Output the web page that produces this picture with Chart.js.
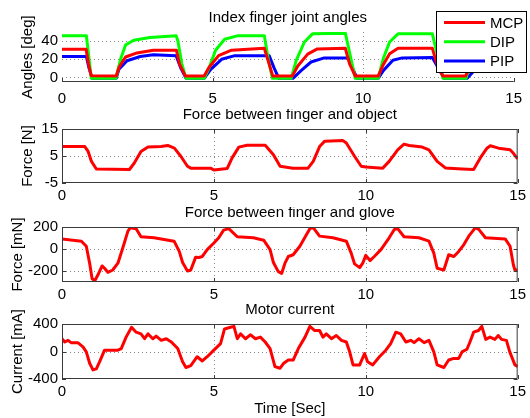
<!DOCTYPE html>
<html>
<head>
<meta charset="utf-8">
<script src="https://cdn.jsdelivr.net/npm/chart.js@4.4.1/dist/chart.umd.min.js"></script>
<style>
  html, body { margin: 0; padding: 0; background: #fff; }
  #wrap { position: relative; width: 530px; height: 418px; overflow: hidden; }
  canvas { position: absolute; left: 0; }
</style>
</head>
<body>
<div id="wrap">
  <canvas id="angles" width="530" height="106" style="top:0px"></canvas>
  <canvas id="objForce" width="530" height="94" style="top:109px"></canvas>
  <canvas id="gloveForce" width="530" height="95" style="top:207px"></canvas>
  <canvas id="current" width="530" height="114" style="top:304px"></canvas>
</div>
<script>
// time axis
const timeTicks = [0, 5, 10, 15];

// joint angles [deg], [time, value]
const mcpAngle = [[0,31],[0.8,31],[0.88,15],[0.97,2],[1.8,1.5],[1.89,11],[2.11,22.5],[2.49,27],[3.03,30],[3.8,30],[3.9,15],[4.1,1.5],
  [4.72,1.5],[4.88,11],[5.2,24],[5.63,30],[6.72,32],[6.85,18],[7.0,1.5],[7.65,1.5],[7.83,12.6],[8.16,25.7],[8.48,31.4],[9.41,32],
  [9.55,15],[9.74,1.5],[10.5,1.5],[10.67,14],[10.88,26],[11.16,32],[12.3,32],[12.45,15],[12.65,1.5],[13.4,1.5],[13.55,12],[13.8,25],[14.1,31],[15,32]];
const dipAngle = [[0,46],[0.81,46],[0.9,20],[0.97,-1],[1.79,-1],[1.95,20.6],[2.11,35.6],[2.38,41],[2.92,44],[3.79,46],[3.85,40],[3.98,15],[4.12,-1],
  [4.72,-1],[4.88,10],[5.1,30],[5.4,42],[5.85,46],[6.72,46],[6.85,20],[6.99,-1],[7.61,-1],[7.78,18.7],[8.05,39],[8.32,48],[9.41,48.7],
  [9.6,20],[9.74,-1],[10.5,-1],[10.67,20.8],[10.88,39],[11.16,48],[12.3,48],[12.5,20],[12.65,-1],[13.42,-1],[13.6,22],[13.85,40],[14.15,47],[15,48]];
const pipAngle = [[0,23],[0.81,23],[0.9,10],[1.0,-1],[1.8,-1],[1.89,9],[2.16,18.4],[2.6,23],[3.03,25],[3.79,24],[3.95,10],[4.12,-1],
  [4.72,-1],[4.94,9],[5.3,20],[5.74,24],[6.88,24],[7.05,10],[7.2,-1],[7.67,-1],[7.94,7.5],[8.27,17],[8.71,21.5],[9.52,21.5],
  [9.65,10],[9.8,-1],[10.5,-1],[10.67,7.5],[10.99,19],[11.3,21.5],[12.3,22],[12.5,10],[12.7,-1],[13.45,-1],[13.7,8],[14.0,18],[14.4,21.5],[15,22]];

// force between finger and object [N]
const objectForce = [[0,8.5],[0.75,8.5],[0.86,6.7],[0.97,3],[1.13,0.2],[2.22,0],[2.38,2.4],[2.6,6.7],[2.83,8.3],[3.26,8.5],[3.48,8.9],[3.7,7.9],
  [3.91,4.9],[4.13,1.2],[4.24,0.5],[4.89,0.5],[5.0,-0.2],[5.44,0.4],[5.6,4.3],[5.82,8.3],[6.09,9],[6.69,9],[6.96,5.5],[7.18,1.2],[7.6,0.5],
  [8.1,0.5],[8.27,3],[8.48,8.5],[8.65,10.5],[9.25,10.7],[9.36,9.8],[9.63,4.9],[9.85,1.2],[10.0,0.9],[10.56,0.5],[10.77,3],[11.05,7.3],
  [11.26,9.4],[11.43,8.9],[11.86,8.3],[12.08,7.3],[12.35,3],[12.62,0.6],[13.17,0.2],[13.55,0],[13.77,4.3],[13.99,7.9],[14.1,8.8],
  [14.37,7.9],[14.75,7.3],[14.86,6],[15,3.9]];

// force between finger and glove [mN]
const gloveForce = [[0,92],[0.64,71],[0.8,25],[0.91,-129],[0.99,-268],[1.08,-289],[1.18,-237],[1.32,-154],[1.4,-175],[1.51,-212],[1.67,-191],
  [1.84,-129],[2.0,9],[2.17,163],[2.25,194],[2.44,185],[2.6,111],[3.03,102],[3.69,71],[3.86,-22],[3.97,-123],[4.13,-200],[4.24,-191],
  [4.4,-74],[4.51,-77],[4.62,-68],[4.78,-6],[5.0,55],[5.16,102],[5.32,172],[5.49,185],[5.77,111],[6.3,102],[6.64,80],[6.85,-6],
  [6.96,-123],[7.12,-206],[7.23,-222],[7.34,-129],[7.45,-68],[7.61,-52],[7.83,25],[8.05,132],[8.16,185],[8.27,194],[8.48,117],
  [8.92,102],[9.36,71],[9.52,-37],[9.63,-135],[9.8,-169],[9.9,-129],[10.0,-58],[10.14,-105],[10.28,-68],[10.5,-6],[10.77,102],
  [10.94,178],[11.05,185],[11.26,111],[11.75,102],[12.08,71],[12.24,-37],[12.35,-175],[12.57,-191],[12.73,-52],[12.9,-68],[13.06,-22],
  [13.23,40],[13.39,117],[13.61,194],[13.72,178],[13.94,102],[14.59,92],[14.75,25],[14.86,-145],[14.91,-191],[15,-191]];

// motor current [mA]
const motorCurrent = [[0,186],[0.09,138],[0.2,162],[0.3,129],[0.52,129],[0.69,67],[0.8,-5],[0.91,-171],[1.02,-267],[1.13,-252],[1.24,-148],
  [1.4,19],[1.84,19],[1.95,43],[2.11,209],[2.29,352],[2.44,281],[2.6,257],[2.72,186],[2.83,257],[2.99,186],[3.1,224],[3.27,162],
  [3.43,186],[3.6,138],[3.81,43],[3.97,-148],[4.08,-233],[4.24,-205],[4.45,-76],[4.62,-138],[4.78,-76],[5.0,19],[5.22,114],[5.35,328],
  [5.55,352],[5.66,366],[5.77,186],[5.88,257],[6.04,186],[6.2,243],[6.37,186],[6.53,209],[6.69,138],[6.85,43],[7.01,-219],[7.18,-243],
  [7.3,-170],[7.45,-124],[7.61,-124],[7.78,43],[8.0,209],[8.16,366],[8.32,305],[8.48,305],[8.59,209],[8.7,257],[8.87,186],[9.03,233],
  [9.2,162],[9.36,138],[9.47,-5],[9.58,-195],[9.8,-195],[9.96,-29],[10.06,-148],[10.23,-195],[10.45,-76],[10.66,19],[10.82,114],
  [10.99,281],[11.15,257],[11.32,138],[11.48,162],[11.59,129],[11.75,186],[11.92,129],[12.08,162],[12.24,-5],[12.35,-195],[12.57,-233],
  [12.73,-124],[12.9,-100],[13.06,-100],[13.17,-5],[13.33,33],[13.43,138],[13.55,281],[13.71,305],[13.82,366],[13.95,176],[14.09,209],
  [14.25,176],[14.36,233],[14.47,176],[14.63,162],[14.74,-5],[14.91,-195],[15,-219]];

const FONT = "'Liberation Sans', Arial, Helvetica, sans-serif";
Chart.defaults.font.family = FONT;
Chart.defaults.font.size = 15;
Chart.defaults.color = '#000';

// dotted grid, box, inward ticks, title and legend, matlab style
const decor = {
  id: 'decor',
  beforeDatasetsDraw(chart) {
    const { ctx, chartArea: a, scales: { x, y } } = chart;
    ctx.save();
    ctx.strokeStyle = '#8a8a8a';
    ctx.lineWidth = 1;
    ctx.setLineDash([1, 3]);
    ctx.beginPath();
    x.ticks.forEach(t => {
      if (t.value === x.min || t.value === x.max) return;
      const px = Math.round(x.getPixelForValue(t.value)) + 0.5;
      ctx.moveTo(px, a.top); ctx.lineTo(px, a.bottom);
    });
    y.ticks.forEach(t => {
      if (t.value === y.min || t.value === y.max) return;
      const py = Math.round(y.getPixelForValue(t.value)) + 0.5;
      ctx.moveTo(a.left, py); ctx.lineTo(a.right, py);
    });
    ctx.stroke();
    ctx.restore();
  },
  afterDatasetsDraw(chart, args, opts) {
    const { ctx, chartArea: a, scales: { x, y } } = chart;
    ctx.save();
    ctx.strokeStyle = '#3a3a3a';
    ctx.lineWidth = 1;
    ctx.beginPath();
    if (opts.box) {
      ctx.rect(a.left + 0.5, a.top + 0.5, a.width - 1, a.height - 1);
    } else {
      ctx.moveTo(a.left, a.bottom - 0.5);
      ctx.lineTo(a.right, a.bottom - 0.5);
    }
    x.ticks.forEach(t => {
      const px = Math.round(x.getPixelForValue(t.value)) + 0.5;
      ctx.moveTo(px, a.bottom); ctx.lineTo(px, a.bottom - 4);
      if (opts.box) { ctx.moveTo(px, a.top); ctx.lineTo(px, a.top + 4); }
    });
    if (opts.box) {
      y.ticks.forEach(t => {
        const py = Math.round(y.getPixelForValue(t.value)) + 0.5;
        ctx.moveTo(a.left, py); ctx.lineTo(a.left + 4, py);
        ctx.moveTo(a.right, py); ctx.lineTo(a.right - 4, py);
      });
    }
    ctx.stroke();

    ctx.fillStyle = '#000';
    ctx.font = '15px ' + FONT;
    ctx.textAlign = 'center';
    ctx.textBaseline = 'middle';
    ctx.fillText(opts.title, (a.left + a.right) / 2, a.top - 14);

    if (opts.legend) {
      const L = opts.legend;
      ctx.fillStyle = '#fff';
      ctx.fillRect(L.x, L.y, L.w, L.h);
      ctx.strokeStyle = '#000';
      ctx.strokeRect(L.x + 0.5, L.y + 0.5, L.w - 1, L.h - 1);
      chart.data.datasets.forEach((ds, i) => {
        const ry = L.y + 11.5 + i * 19.3;
        ctx.strokeStyle = ds.borderColor;
        ctx.lineWidth = 3;
        ctx.beginPath();
        ctx.moveTo(L.x + 8, ry); ctx.lineTo(L.x + 49, ry);
        ctx.stroke();
        ctx.fillStyle = '#000';
        ctx.textAlign = 'left';
        ctx.fillText(ds.label, L.x + 54, ry + 1);
      });
    }
    ctx.restore();
  }
};

function panel(id, o) {
  return new Chart(document.getElementById(id), {
    type: 'line',
    data: {
      datasets: o.series.map(s => ({
        label: s.label,
        data: s.points.map(p => ({ x: p[0], y: p[1] })),
        borderColor: s.color,
        borderWidth: 3,
        pointRadius: 0,
        tension: 0,
        fill: false,
        borderJoinStyle: 'round'
      }))
    },
    options: {
      responsive: false,
      animation: false,
      events: [],
      layout: { padding: { top: o.padTop, right: 9, left: 0, bottom: 0 } },
      plugins: {
        legend: { display: false },
        tooltip: { enabled: false },
        decor: { title: o.title, box: o.box, legend: o.legend }
      },
      scales: {
        x: {
          type: 'linear', min: 0, max: 15,
          afterBuildTicks: s => { s.ticks = timeTicks.map(v => ({ value: v })); },
          afterFit: s => { s.height = o.xHeight; },
          ticks: { padding: o.xPad, maxRotation: 0, autoSkip: false, callback: v => String(v) },
          grid: { display: false, drawTicks: false },
          border: { display: false },
          title: o.xTitle ? { display: true, text: o.xTitle, padding: { top: 0, bottom: 0 } } : { display: false }
        },
        y: {
          type: 'linear', min: o.yMin, max: o.yMax,
          afterBuildTicks: s => { s.ticks = o.yTicks.map(v => ({ value: v })); },
          afterFit: s => { s.width = 62; },
          ticks: { padding: 4, callback: v => String(v) },
          grid: { display: false, drawTicks: false },
          border: { display: false },
          title: { display: true, text: o.yTitle, padding: { top: o.yTitlePad, bottom: 0 } }
        }
      }
    },
    plugins: [decor]
  });
}

panel('angles', {
  title: 'Index finger joint angles', yTitle: 'Angles [deg]', yTitlePad: 19,
  yMin: -5, yMax: 50, yTicks: [0, 20, 40], padTop: 32, xHeight: 24, xPad: 8, box: false,
  legend: { x: 436, y: 11, w: 91, h: 62 },
  series: [
    { label: 'MCP', points: mcpAngle, color: '#ff0000' },
    { label: 'DIP', points: dipAngle, color: '#00ff00' },
    { label: 'PIP', points: pipAngle, color: '#0000ff' }
  ]
});

panel('objForce', {
  title: 'Force between finger and object', yTitle: 'Force [N]', yTitlePad: 19,
  yMin: -5, yMax: 15, yTicks: [-5, 0, 5, 10, 15], padTop: 20, xHeight: 20, xPad: 4, box: true,
  series: [{ label: 'Force', points: objectForce, color: '#ff0000' }]
});

panel('gloveForce', {
  title: 'Force between finger and glove', yTitle: 'Force [mN]', yTitlePad: 8.6,
  yMin: -300, yMax: 200, yTicks: [-200, 0, 200], padTop: 20, xHeight: 20, xPad: 4, box: true,
  series: [{ label: 'Force', points: gloveForce, color: '#ff0000' }]
});

panel('current', {
  title: 'Motor current', yTitle: 'Current [mA]', yTitlePad: 8.6, xTitle: 'Time [Sec]',
  yMin: -400, yMax: 400, yTicks: [-400, -200, 0, 200, 400], padTop: 20, xHeight: 39, xPad: 4, box: true,
  series: [{ label: 'Current', points: motorCurrent, color: '#ff0000' }]
});
</script>
</body>
</html>
